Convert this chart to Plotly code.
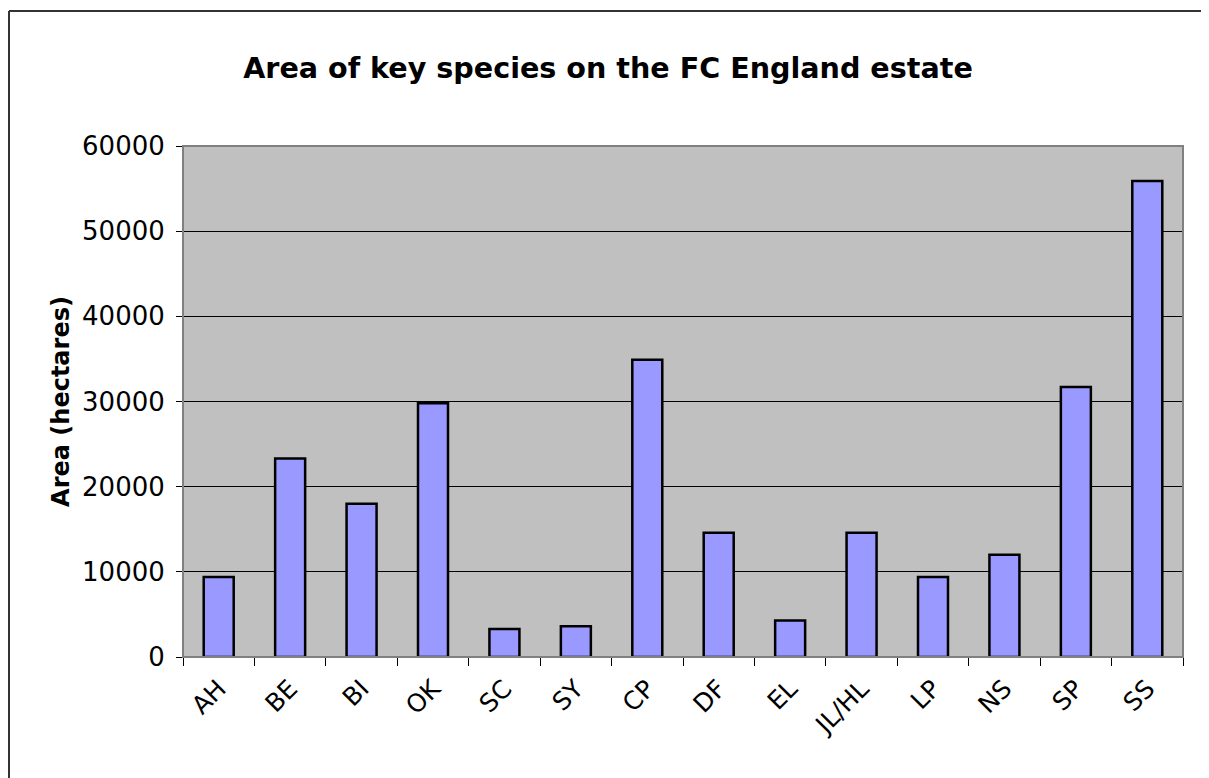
import plotly.graph_objects as go

species = ["AH", "BE", "BI", "OK", "SC", "SY", "CP", "DF", "EL", "JL/HL", "LP", "NS", "SP", "SS"]
area_ha = [9400, 23300, 18000, 29800, 3300, 3600, 34900, 14600, 4300, 14600, 9400, 12000, 31700, 55900]
y_ticks = [0, 10000, 20000, 30000, 40000, 50000, 60000]

FONT = "DejaVu Sans"

W, H = 1201, 770
L, R, T, B = 175, 26, 138, 121
plot_h = H - T - B

fig = go.Figure(
    go.Bar(
        x=species,
        y=area_ha,
        marker=dict(color="#9999FF", line=dict(color="black", width=2.5)),
    )
)

fig.update_layout(
    width=W,
    height=H,
    margin=dict(l=L, r=R, t=T, b=B),
    paper_bgcolor="white",
    plot_bgcolor="#C0C0C0",
    bargap=0.58,
    showlegend=False,
    font=dict(family=FONT, color="black"),
    title=dict(
        text="<b>Area of key species on the FC England estate</b>",
        font=dict(family=FONT, size=28.6, color="black"),
        xref="container", x=(608 - 8) / W, xanchor="center",
        yref="container", y=1 - 60 / H, yanchor="middle",
    ),
    xaxis=dict(
        type="category",
        tickson="boundaries",
        ticks="outside",
        ticklen=8,
        tickcolor="black",
        tickwidth=1,
        tickangle=-45,
        ticklabelstandoff=6,
        tickfont=dict(family=FONT, size=25, color="black"),
        showline=True,
        linecolor="black",
        linewidth=1,
        showgrid=False,
    ),
    yaxis=dict(
        range=[0, 60000],
        tickvals=y_ticks,
        ticktext=[str(v) for v in y_ticks],
        ticks="outside",
        ticklen=6,
        tickcolor="black",
        ticklabelstandoff=6,
        tickfont=dict(family=FONT, size=26, color="black"),
        showline=True,
        linecolor="black",
        linewidth=1,
        showgrid=True,
        gridcolor="black",
        gridwidth=1,
        zeroline=False,
        title=dict(text="<b>Area (hectares)</b>", font=dict(family=FONT, size=24, color="black"), standoff=5),
    ),
    shapes=[
        dict(type="rect", xref="paper", yref="paper", x0=0, y0=0, x1=1, y1=1,
             line=dict(color="#808080", width=2), layer="above"),
        dict(type="line", xref="paper", yref="paper", x0=-L / 1000 + 0.001, y0=(plot_h + T - 3) / plot_h,
             x1=1.1, y1=(plot_h + T - 3) / plot_h, line=dict(color="#333333", width=2)),
        dict(type="line", xref="paper", yref="paper", x0=-L / 1000 + 0.001, y0=(plot_h + T - 3) / plot_h,
             x1=-L / 1000 + 0.001, y1=-0.3, line=dict(color="#333333", width=2)),
    ],
)

fig.write_html("out.html")
